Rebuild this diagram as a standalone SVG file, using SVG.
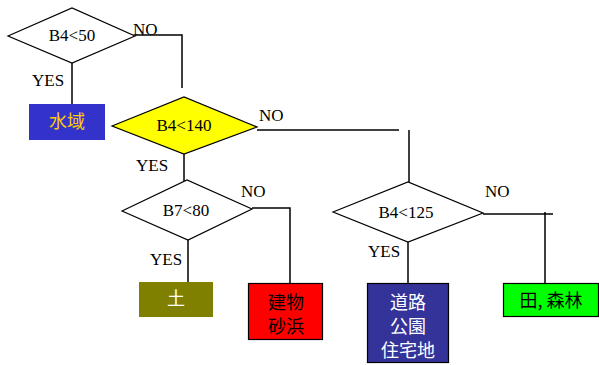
<svg xmlns="http://www.w3.org/2000/svg" width="599" height="365" viewBox="0 0 599 365">
<style>
.d{stroke:#000;stroke-width:1.2;fill:#fff}
.c{stroke:#000;stroke-width:1.5;fill:none}
.t{font-family:"Liberation Serif",serif;font-size:17px;fill:#000;text-anchor:middle}
.l{font-family:"Liberation Serif",serif;font-size:17px;fill:#000}
.j{font-family:"Noto Sans CJK JP","Noto Sans CJK SC",sans-serif;font-size:18px;text-anchor:middle}
</style>
<rect width="599" height="365" fill="#fff"/>
<g id="connectors">
<polyline class="c" points="135,35 182,35 182,88"/>
<line class="c" x1="72" y1="63" x2="72" y2="104"/>
<polyline class="c" points="257,130 399,130"/>
<line class="c" x1="409" y1="130" x2="409" y2="182"/>
<line class="c" x1="184" y1="154" x2="184" y2="181"/>
<polyline class="c" points="252,208 290,208 290,283"/>
<line class="c" x1="188" y1="240" x2="188" y2="283"/>
<polyline class="c" points="483,214 553,214"/>
<line class="c" x1="545" y1="212" x2="545" y2="283"/>
<line class="c" x1="408" y1="242" x2="408" y2="283"/>
<text class="l" x="133" y="35">NO</text>
<text class="l" x="32" y="86">YES</text>
<text class="l" x="259" y="121">NO</text>
<text class="l" x="136" y="171">YES</text>
<text class="l" x="241" y="197">NO</text>
<text class="l" x="150" y="265">YES</text>
<text class="l" x="485" y="197">NO</text>
<text class="l" x="368" y="257">YES</text>
</g>
<g id="n1">
<polygon class="d" points="8,36 72,8 135,36 72,63"/>
<text class="t" x="72" y="41">B4&lt;50</text>
</g>
<g id="n2">
<rect x="29" y="104" width="76" height="36" fill="#3333cc"/>
<text class="j" x="67" y="128" fill="#ffcc00">水域</text>
</g>
<g id="n3">
<polygon class="d" points="112,126 184,97 257,127 184,154" style="fill:#ffff00"/>
<text class="t" x="184" y="131">B4&lt;140</text>
</g>
<g id="n4">
<polygon class="d" points="122,211 187,180 252,209 188,240"/>
<text class="t" x="186" y="216">B7&lt;80</text>
</g>
<g id="n5">
<polygon class="d" points="333,212 408,182 483,213 408,242"/>
<text class="t" x="406" y="218">B4&lt;125</text>
</g>
<g id="n6">
<rect x="139" y="282" width="74" height="35" fill="#808000"/>
<text class="j" x="176" y="305" fill="#fff">土</text>
</g>
<g id="n7">
<rect x="248.5" y="283.5" width="74" height="56" fill="#ff0000" stroke="#000" stroke-width="1.2"/>
<text class="j" x="286" y="309" fill="#000">建物</text>
<text class="j" x="286" y="333" fill="#000">砂浜</text>
</g>
<g id="n8">
<rect x="367.5" y="283.5" width="81" height="79" fill="#333399" stroke="#000" stroke-width="1.2"/>
<text class="j" x="408" y="309" fill="#fff">道路</text>
<text class="j" x="408" y="333" fill="#fff">公園</text>
<text class="j" x="408" y="357" fill="#fff">住宅地</text>
</g>
<g id="n9">
<rect x="503.5" y="283.5" width="95" height="33" fill="#00ff00" stroke="#000" stroke-width="1.2"/>
<text class="j" x="551" y="307" fill="#000">田, 森林</text>
</g>
</svg>
